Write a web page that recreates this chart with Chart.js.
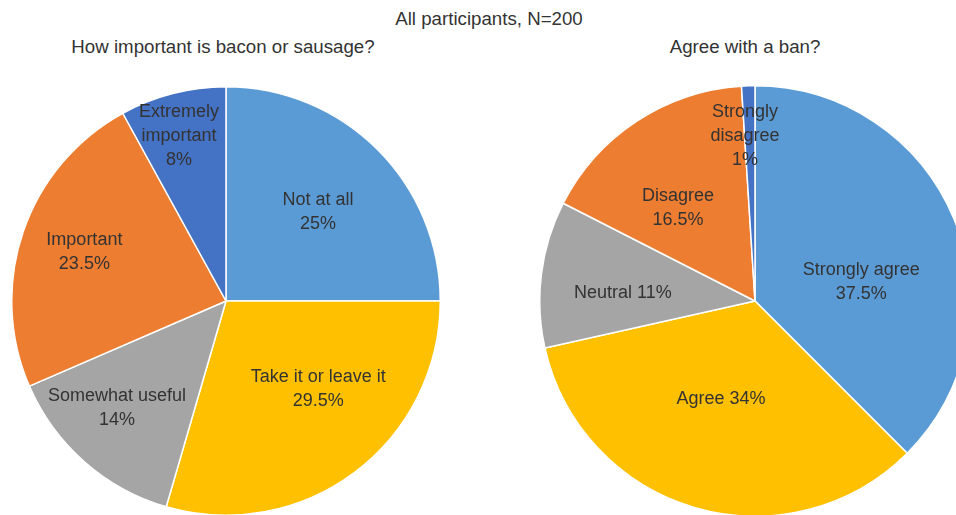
<!DOCTYPE html>
<html>
<head>
<meta charset="utf-8">
<script src="https://cdn.jsdelivr.net/npm/chart.js@4"></script>
<style>
    html, body { margin: 0; padding: 0; background: #fff; }
    body { width: 956px; height: 515px; overflow: hidden; position: relative; font-family: "Liberation Sans", Arial, sans-serif; color: #333; }
    .title { position: absolute; white-space: nowrap; transform: translate(-50%, -50%); font-size: 18.7px; }
    canvas { position: absolute; }
</style>
</head>
<body>
<div class="title" style="left:489px; top:19px;">All participants, N=200</div>
<div class="title" style="left:223px; top:47px;">How important is bacon or sausage?</div>
<div class="title" style="left:745px; top:47px;">Agree with a ban?</div>

<canvas id="leftPie" width="430" height="430" style="left:11px; top:86px;"></canvas>
<canvas id="rightPie" width="432" height="432" style="left:539px; top:85px;"></canvas>

<script>
// Left pie: How important is bacon or sausage?
const leftCategories = ['Not at all', 'Take it or leave it', 'Somewhat useful', 'Important', 'Extremely important'];
const leftValues = [25, 29.5, 14, 23.5, 8];
const leftNameLines = [['Not at all'], ['Take it or leave it'], ['Somewhat useful'], ['Important'], ['Extremely', 'important']];

// Right pie: Agree with a ban?
const rightCategories = ['Strongly agree', 'Agree', 'Neutral', 'Disagree', 'Strongly disagree'];
const rightValues = [37.5, 34, 11, 16.5, 1];
const rightNameLines = [['Strongly agree'], ['Agree'], ['Neutral'], ['Disagree'], ['Strongly', 'disagree']];

const sliceColors = ['#5B9BD5', '#FFC000', '#A5A5A5', '#ED7D31', '#4472C4'];

// label placement tweaks (px, relative to 60% radius on the mid angle)
const leftInline = [false, false, false, false, false];
const leftNudge = [[1, 2], [15, -15], [-24, 11], [-20, -7], [-15, -40]];
const rightInline = [false, true, true, false, false];
const rightNudge = [[-13, 30], [2, -26], [-4, 8], [-6, 15], [-6, -36]];

const sliceLabels = {
    id: 'sliceLabels',
    afterDatasetsDraw(chart, args, opts) {
        const ctx = chart.ctx;
        const meta = chart.getDatasetMeta(0);
        const values = chart.data.datasets[0].data;
        ctx.save();
        ctx.font = '18px "Liberation Sans", Arial, sans-serif';
        ctx.fillStyle = '#333';
        ctx.textAlign = 'center';
        ctx.textBaseline = 'middle';
        meta.data.forEach((arc, i) => {
            const p = arc.getProps(['x', 'y', 'startAngle', 'endAngle', 'outerRadius'], true);
            const mid = (p.startAngle + p.endAngle) / 2;
            const r = p.outerRadius * 0.6;
            const cx = p.x + Math.cos(mid) * r + opts.nudge[i][0];
            const cy = p.y + Math.sin(mid) * r + opts.nudge[i][1];
            let lines = opts.names[i].slice();
            const pct = values[i] + '%';
            if (opts.inline[i]) {
                lines[lines.length - 1] += ' ' + pct;
            } else {
                lines.push(pct);
            }
            const lh = 24;
            const top = cy - (lines.length - 1) * lh / 2;
            lines.forEach((t, k) => ctx.fillText(t, cx, top + k * lh));
        });
        ctx.restore();
    }
};

function makePie(id, labels, values, names, inline, nudge) {
    new Chart(document.getElementById(id).getContext('2d'), {
        type: 'pie',
        data: {
            labels: labels,
            datasets: [{
                data: values,
                backgroundColor: sliceColors,
                borderColor: '#ffffff',
                borderWidth: 1.5
            }]
        },
        options: {
            responsive: false,
            animation: false,
            layout: { padding: 0 },
            plugins: {
                legend: { display: false },
                tooltip: { enabled: false },
                sliceLabels: { names: names, inline: inline, nudge: nudge }
            }
        },
        plugins: [sliceLabels]
    });
}

makePie('leftPie', leftCategories, leftValues, leftNameLines, leftInline, leftNudge);
makePie('rightPie', rightCategories, rightValues, rightNameLines, rightInline, rightNudge);
</script>
</body>
</html>
